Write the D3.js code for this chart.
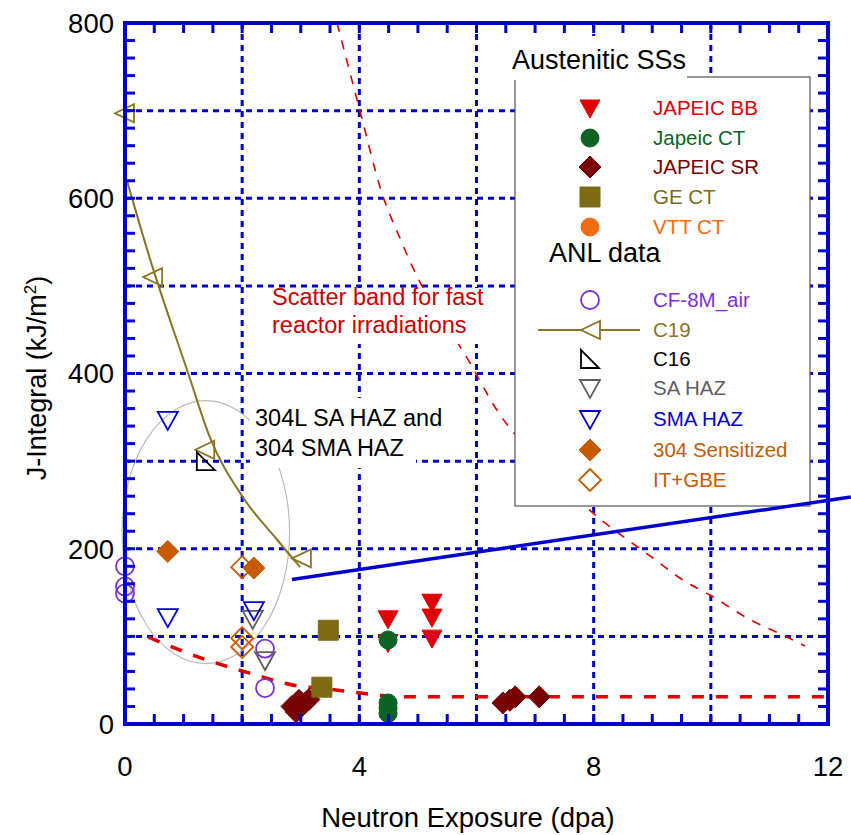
<!DOCTYPE html>
<html>
<head>
<meta charset="utf-8">
<script src="https://cdn.jsdelivr.net/npm/d3@7"></script>
<style>
  body { margin: 0; background: #fff; }
  svg { font-family: Arial, 'Liberation Sans', sans-serif; }
</style>
</head>
<body>
<div id="svg-container"></div>
<script>
// data: [dpa, J kJ/m2]
const japeicBB = [[4.49, 120], [4.49, 93], [5.24, 139], [5.24, 122], [5.24, 98]]
const japeicCT = [[4.49, 96], [4.49, 24], [4.49, 18], [4.49, 12]]
const japeicSR = [
  [2.85, 20], [2.92, 14], [2.97, 27], [3.07, 24], [3.14, 28],
  [6.45, 24], [6.57, 27], [6.66, 31], [7.07, 31],
]
const geCT = [[3.47, 107], [3.36, 42]]
const vttCT = []
const cf8mAir = [[0, 180], [0, 157], [0, 149], [2.39, 86], [2.39, 41]]
const c19 = [[0, 697], [0.48, 510], [1.37, 313], [3.02, 189]]
const c16 = [[1.38, 300]]
const saHaz = [[2.18, 120], [2.39, 73]]
const smaHaz = [[0.73, 347], [0.73, 122], [2.2, 130]]
const sensitized304 = [[0.73, 197], [2.2, 178]]
const itGbe = [[2.0, 179], [2.0, 98], [2.0, 88]]

// curves drawn on the figure
const c19Fit = [[0.03, 621], [0.43, 530], [1.08, 400], [1.45, 327], [2.01, 259], [2.6, 210], [2.99, 179]]
const lowerBand = [[0.4, 99], [1.4, 73], [2.13, 58], [2.99, 43], [3.33, 41], [4.18, 34], [4.7, 31], [6, 31], [12, 31]]
const upperBand = [
  [3.62, 800], [4.01, 700], [4.39, 605], [4.69, 555], [4.92, 520], [5.89, 412], [6.35, 358],
  [7, 305], [8, 240], [9, 190], [9.53, 164], [9.99, 147], [10.7, 118], [11.18, 103], [11.61, 89],
]
const blueLine = [[2.85, 165], [12.39, 259]]
const hazEllipse = { cx: 1.38, cy: 219, rx: 1.43, ry: 150 }

const xTickLabels = [0, 4, 8, 12]
const yTickLabels = [0, 200, 400, 600, 800]
const xGrid = [2, 4, 6, 8, 10]
const yGrid = [100, 200, 300, 400, 500, 600, 700]

const blue = '#0000cc'
const red = '#e00000'

const svg = d3.select('#svg-container').append('svg').attr('width', 851).attr('height', 835)

const xScale = d3.scaleLinear().domain([0, 12]).range([125, 828])
const yScale = d3.scaleLinear().domain([0, 800]).range([724, 23])

// marker shapes (pixel sizes)
const shapes = {
  down: 'M-10,-8L10,-8L0,10Z',
  left: 'M-10,0L9,-9L9,9Z',
  right: 'M-9,-9L-9,9L9,9Z',
  diamond: 'M0,-11L11,0L0,11L-11,0Z',
  square: 'M-10,-10L10,-10L10,10L-10,10Z',
}

const series = [
  { name: 'JAPEIC BB', data: japeicBB, shape: 'down', color: red, fill: true },
  { name: 'Japeic CT', data: japeicCT, shape: 'circle', color: '#0b6423', fill: true },
  { name: 'JAPEIC SR', data: japeicSR, shape: 'diamond', color: '#780000', fill: true },
  { name: 'GE CT', data: geCT, shape: 'square', color: '#7d6a15', fill: true },
  { name: 'VTT CT', data: vttCT, shape: 'circle', color: '#f06b14', fill: true },
  { name: 'CF-8M_air', data: cf8mAir, shape: 'circle', color: '#7b2fe0', fill: false },
  { name: 'C19', data: c19, shape: 'left', color: '#8a7523', fill: false, line: true },
  { name: 'C16', data: c16, shape: 'right', color: '#000', fill: false },
  { name: 'SA HAZ', data: saHaz, shape: 'down', color: '#606060', fill: false },
  { name: 'SMA HAZ', data: smaHaz, shape: 'down', color: blue, fill: false },
  { name: '304 Sensitized', data: sensitized304, shape: 'diamond', color: '#c85a00', fill: true },
  { name: 'IT+GBE', data: itGbe, shape: 'diamond', color: '#c85a00', fill: false },
]

function drawMarker(g, s, px, py) {
  const m = s.shape === 'circle'
    ? g.append('circle').attr('cx', px).attr('cy', py).attr('r', 9)
    : g.append('path').attr('d', shapes[s.shape]).attr('transform', `translate(${px},${py})`)
  m.attr('fill', s.fill ? s.color : 'none')
    .attr('stroke', s.color)
    .attr('stroke-width', s.fill ? 1 : 1.8)
}

// grid
const grid = svg.append('g').attr('stroke', blue).attr('stroke-width', 3).attr('stroke-dasharray', '6,5')
grid.selectAll('.gx').data(xGrid).join('line')
  .attr('x1', d => xScale(d)).attr('x2', d => xScale(d))
  .attr('y1', yScale(800)).attr('y2', yScale(0))
grid.selectAll('.gy').data(yGrid).join('line')
  .attr('y1', d => yScale(d)).attr('y2', d => yScale(d))
  .attr('x1', xScale(0)).attr('x2', xScale(12))

const line = d3.line().x(d => xScale(d[0])).y(d => yScale(d[1])).curve(d3.curveMonotoneX)

// upper scatter band (behind legend)
svg.append('path').attr('d', line(upperBand))
  .attr('fill', 'none').attr('stroke', red).attr('stroke-width', 1.6).attr('stroke-dasharray', '9,9')

// legend box
const lg = svg.append('g')
lg.append('rect').attr('x', 508).attr('y', 36).attr('width', 180).attr('height', 42).attr('fill', '#fff')
lg.append('rect').attr('x', 515).attr('y', 77).attr('width', 295).attr('height', 429)
  .attr('fill', '#fff').attr('stroke', '#555').attr('stroke-width', 1.2)
lg.append('rect').attr('x', 509).attr('y', 50).attr('width', 178).attr('height', 30).attr('fill', '#fff')
lg.append('text').attr('x', 512).attr('y', 69).attr('font-size', 27).text('Austenitic SSs')
lg.append('text').attr('x', 549).attr('y', 262).attr('font-size', 27).text('ANL data')

const legendRows = [108, 138, 167, 197, 227, 300, 330, 359, 388, 419, 450, 480]
series.forEach((s, i) => {
  const ly = legendRows[i]
  if (s.line) {
    lg.append('line').attr('x1', 538).attr('x2', 640).attr('y1', ly).attr('y2', ly)
      .attr('stroke', s.color).attr('stroke-width', 2)
    lg.append('path').attr('d', shapes.left).attr('transform', `translate(591,${ly})`)
      .attr('fill', '#fff').attr('stroke', s.color).attr('stroke-width', 1.8)
  } else {
    drawMarker(lg, s, 590, ly)
  }
  lg.append('text').attr('x', 653).attr('y', ly).attr('dy', '0.36em')
    .attr('font-size', 20.5).attr('fill', s.color).text(s.name)
})

// ellipse around HAZ data
svg.append('ellipse')
  .attr('cx', xScale(hazEllipse.cx)).attr('cy', yScale(hazEllipse.cy))
  .attr('rx', xScale(hazEllipse.rx) - xScale(0)).attr('ry', yScale(0) - yScale(hazEllipse.ry))
  .attr('fill', 'none').attr('stroke', '#bbb').attr('stroke-width', 1.2)

// annotation backgrounds
svg.append('rect').attr('x', 264).attr('y', 288).attr('width', 226).attr('height', 56).attr('fill', '#fff')
svg.append('rect').attr('x', 250).attr('y', 398).attr('width', 196).attr('height', 38).attr('fill', '#fff')
svg.append('rect').attr('x', 250).attr('y', 436).attr('width', 166).attr('height', 32).attr('fill', '#fff')

// lower scatter band
svg.append('path').attr('d', line(lowerBand))
  .attr('fill', 'none').attr('stroke', red).attr('stroke-width', 3.5).attr('stroke-dasharray', '12,12')

// C19 fit
svg.append('path').attr('d', line(c19Fit))
  .attr('fill', 'none').attr('stroke', '#8a7523').attr('stroke-width', 2)

// blue line
svg.append('path').attr('d', d3.line().x(d => xScale(d[0])).y(d => yScale(d[1]))(blueLine))
  .attr('fill', 'none').attr('stroke', blue).attr('stroke-width', 3.5)

// points
const pts = svg.append('g')
series.forEach(s => {
  s.data.forEach(d => drawMarker(pts, s, xScale(d[0]), yScale(d[1])))
})

// annotations
const ann1 = svg.append('text').attr('fill', '#cc0000').attr('font-size', 23.5)
ann1.append('tspan').attr('x', 272).attr('y', 305).text('Scatter band for fast')
ann1.append('tspan').attr('x', 272).attr('y', 333).text('reactor irradiations')
const ann2 = svg.append('text').attr('fill', '#000').attr('font-size', 23.5)
ann2.append('tspan').attr('x', 255).attr('y', 426).text('304L SA HAZ and')
ann2.append('tspan').attr('x', 255).attr('y', 456).text('304 SMA HAZ')

// frame and ticks
const frame = svg.append('g').attr('stroke', blue)
frame.append('rect')
  .attr('x', xScale(0)).attr('y', yScale(800))
  .attr('width', xScale(12) - xScale(0)).attr('height', yScale(0) - yScale(800))
  .attr('fill', 'none').attr('stroke-width', 4)
const xMinor = d3.range(0.5, 12, 0.5)
const yMinor = d3.range(20, 800, 20)
frame.selectAll('.tb').data(xMinor).join('line')
  .attr('x1', d => xScale(d)).attr('x2', d => xScale(d))
  .attr('y1', yScale(0)).attr('y2', yScale(0) - 10).attr('stroke-width', 3)
frame.selectAll('.tt').data(xMinor).join('line')
  .attr('x1', d => xScale(d)).attr('x2', d => xScale(d))
  .attr('y1', yScale(800)).attr('y2', yScale(800) + 10).attr('stroke-width', 3)
frame.selectAll('.tl').data(yMinor).join('line')
  .attr('y1', d => yScale(d)).attr('y2', d => yScale(d))
  .attr('x1', xScale(0)).attr('x2', xScale(0) + 10).attr('stroke-width', 3)
frame.selectAll('.tr').data(yMinor).join('line')
  .attr('y1', d => yScale(d)).attr('y2', d => yScale(d))
  .attr('x1', xScale(12)).attr('x2', xScale(12) - 10).attr('stroke-width', 3)

// tick labels
svg.append('g').selectAll('text').data(xTickLabels).join('text')
  .attr('x', d => xScale(d)).attr('y', 776).attr('text-anchor', 'middle')
  .attr('font-size', 27.5).text(d => d)
svg.append('g').selectAll('text').data(yTickLabels).join('text')
  .attr('x', 114).attr('y', d => yScale(d)).attr('dy', '0.36em').attr('text-anchor', 'end')
  .attr('font-size', 27.5).text(d => d)

// axis titles
svg.append('text').attr('x', 468).attr('y', 827).attr('text-anchor', 'middle')
  .attr('font-size', 27.5).text('Neutron Exposure (dpa)')
const yt = svg.append('text').attr('transform', 'translate(46,378) rotate(-90)')
  .attr('text-anchor', 'middle').attr('font-size', 27)
yt.append('tspan').text('J-Integral (kJ/m')
yt.append('tspan').attr('font-size', 17).attr('dy', -10).text('2')
yt.append('tspan').attr('dy', 10).text(')')
</script>
</body>
</html>
